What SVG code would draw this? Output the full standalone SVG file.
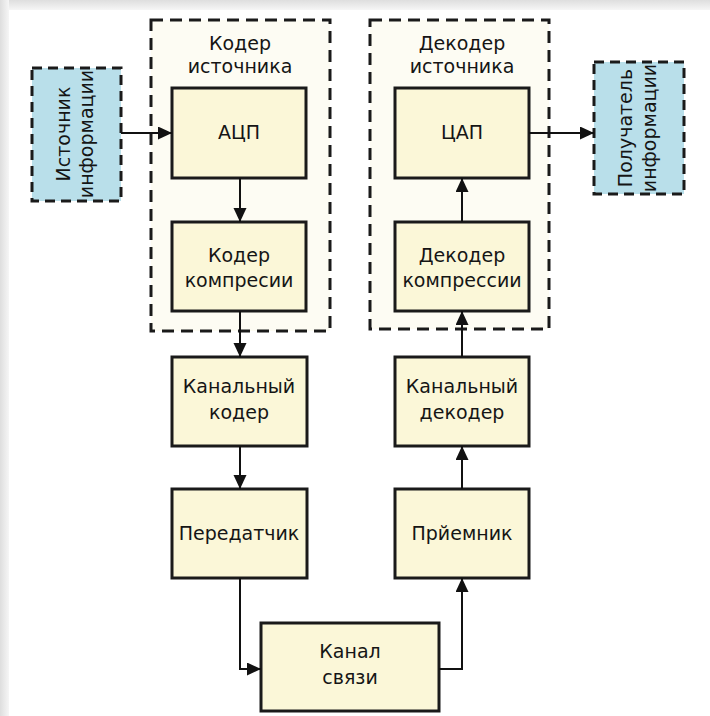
<svg xmlns="http://www.w3.org/2000/svg" width="710" height="716" viewBox="0 0 710 716">
  <defs>
    <linearGradient id="shTop" x1="0" y1="0" x2="0" y2="1">
      <stop offset="0" stop-color="#dedede"/>
      <stop offset="1" stop-color="#f6f6f6"/>
    </linearGradient>
    <linearGradient id="shLeft" x1="0" y1="0" x2="1" y2="0">
      <stop offset="0" stop-color="#dedede"/>
      <stop offset="1" stop-color="#f6f6f6"/>
    </linearGradient>
    <marker id="ah" markerUnits="userSpaceOnUse" markerWidth="16" markerHeight="16" refX="14" refY="6.5" orient="auto">
      <path d="M0,0 L14,6.5 L0,13 z" fill="#111"/>
    </marker>
  </defs>
  <style>
    .box { fill: #fbf7d8; stroke: #1a1a1a; stroke-width: 3; }
    .grp { fill: #fdfcf3; stroke: #1a1a1a; stroke-width: 3; stroke-dasharray: 12 7; }
    .ext { fill: #b9dfea; stroke: #1a1a1a; stroke-width: 3; stroke-dasharray: 10 6; }
    .t { font-family: "DejaVu Sans", Verdana, sans-serif; font-size: 19px; fill: #151515; text-anchor: middle; }
    .c { fill: none; stroke: #111; stroke-width: 2; marker-end: url(#ah); }
  </style>
  <rect x="0" y="0" width="710" height="716" fill="#ffffff"/>
  <rect x="0" y="0" width="710" height="10" fill="url(#shTop)"/>
  <rect x="0" y="0" width="9" height="716" fill="url(#shLeft)"/>
  <rect x="9" y="10" width="701" height="706" fill="#ffffff"/>

  <g id="source-coder">
    <rect class="grp" x="151" y="20" width="179" height="311"/>
    <text class="t" x="240" y="50">Кодер</text>
    <text class="t" x="240" y="73">источника</text>
  </g>
  <g id="source-decoder">
    <rect class="grp" x="370" y="20" width="179" height="309"/>
    <text class="t" x="462" y="50">Декодер</text>
    <text class="t" x="462" y="73">источника</text>
  </g>

  <g id="info-source">
    <rect class="ext" x="32" y="68" width="89" height="133"/>
    <text class="t" transform="translate(70,134) rotate(-90)">Источник</text>
    <text class="t" transform="translate(93,134) rotate(-90)">информации</text>
  </g>
  <g id="info-receiver">
    <rect class="ext" x="594" y="62" width="90" height="132"/>
    <text class="t" transform="translate(632,128) rotate(-90)">Получатель</text>
    <text class="t" transform="translate(656,128) rotate(-90)">информации</text>
  </g>

  <g id="adc">
    <rect class="box" x="172" y="88" width="134" height="90"/>
    <text class="t" x="239" y="139">АЦП</text>
  </g>
  <g id="compress-coder">
    <rect class="box" x="172" y="222" width="134" height="89"/>
    <text class="t" x="239" y="262">Кодер</text>
    <text class="t" x="239" y="287">компресии</text>
  </g>
  <g id="dac">
    <rect class="box" x="395" y="88" width="134" height="90"/>
    <text class="t" x="462" y="139">ЦАП</text>
  </g>
  <g id="compress-decoder">
    <rect class="box" x="395" y="222" width="134" height="89"/>
    <text class="t" x="462" y="262">Декодер</text>
    <text class="t" x="462" y="287">компрессии</text>
  </g>
  <g id="channel-coder">
    <rect class="box" x="172" y="357" width="135" height="89"/>
    <text class="t" x="239" y="393">Канальный</text>
    <text class="t" x="239" y="419">кодер</text>
  </g>
  <g id="channel-decoder">
    <rect class="box" x="395" y="357" width="134" height="89"/>
    <text class="t" x="462" y="393">Канальный</text>
    <text class="t" x="462" y="419">декодер</text>
  </g>
  <g id="transmitter">
    <rect class="box" x="172" y="489" width="135" height="89"/>
    <text class="t" x="239" y="540">Передатчик</text>
  </g>
  <g id="receiver">
    <rect class="box" x="395" y="489" width="134" height="89"/>
    <text class="t" x="462" y="540">Прйемник</text>
  </g>
  <g id="channel">
    <rect class="box" x="261" y="623" width="178" height="88"/>
    <text class="t" x="350" y="658">Канал</text>
    <text class="t" x="350" y="684">связи</text>
  </g>

  <g id="connectors">
    <path class="c" d="M121,133 L172,133"/>
    <path class="c" d="M240,178 L240,222"/>
    <path class="c" d="M240,311 L240,357"/>
    <path class="c" d="M240,446 L240,489"/>
    <path class="c" d="M240,578 L240,669 L261,669"/>
    <path class="c" d="M439,669 L462,669 L462,578"/>
    <path class="c" d="M462,489 L462,446"/>
    <path class="c" d="M462,357 L462,311"/>
    <path class="c" d="M462,222 L462,178"/>
    <path class="c" d="M529,133 L594,133"/>
  </g>
</svg>
